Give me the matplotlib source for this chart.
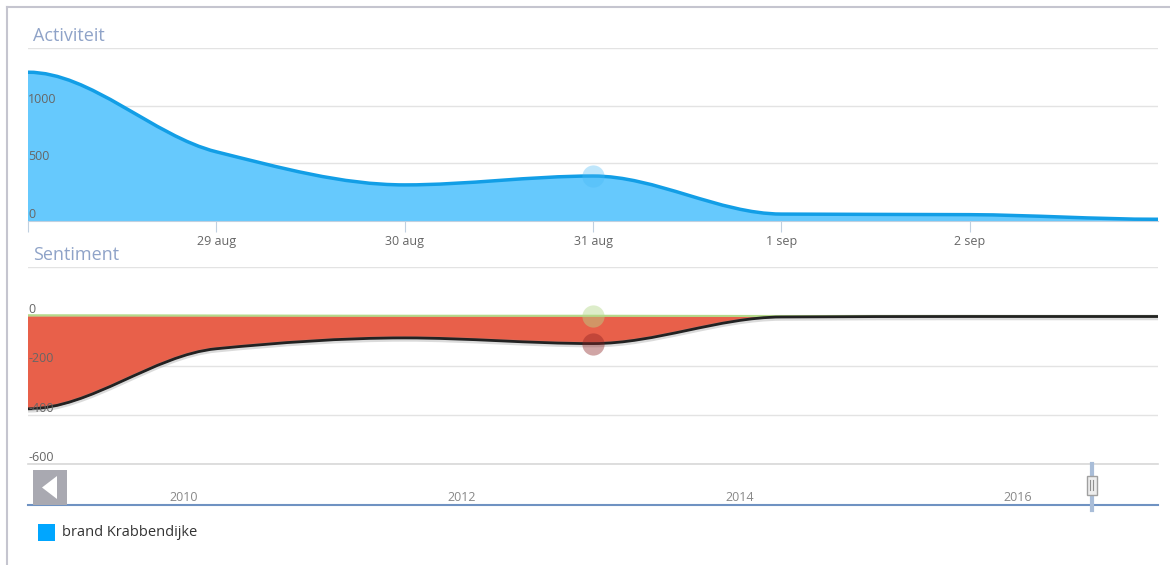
import matplotlib
matplotlib.use("Agg")
import matplotlib.pyplot as plt
import matplotlib.dates as mdates
import numpy as np
from datetime import datetime
from matplotlib.path import Path
from matplotlib.patches import PathPatch, Rectangle, Polygon
from matplotlib.lines import Line2D

plt.rcParams['font.family'] = ['Open Sans', 'DejaVu Sans']

# data
days = [datetime(2016, 8, d) for d in (28, 29, 30, 31)] + \
       [datetime(2016, 9, d) for d in (1, 2, 3)]
activity = [1290, 600, 313, 390, 60, 55, 15]
sent_neg = [-380, -135, -90, -113, -4, -2, -1]
sent_pos = [4, 3, 2, 2, 1, 1, 0]
sent_net = [p + n for p, n in zip(sent_pos, sent_neg)]
day_labels = ['', '29 aug', '30 aug', '31 aug', '1 sep', '2 sep']
act_ticks = [0, 500, 1000]
act_grid = [0, 500, 1000, 1500]
sent_ticks = [0, -200, -400, -600]
sent_grid = [-600, -400, -200, 0, 200]
nav_years = [2010, 2012, 2014, 2016]
hover_idx = 3
legend_label = 'brand Krabbendijke'

W, H = 1170, 565
fig = plt.figure(figsize=(W / 100, H / 100), dpi=100)


def fx(px):
    return px / W


def fy(py):
    return 1 - py / H


def spline(xs, ys):
    # monotone cubic through the points, as bezier segments
    xs = np.asarray(xs, float)
    ys = np.asarray(ys, float)
    d = np.diff(ys) / np.diff(xs)
    m = np.zeros(len(xs))
    for k in range(1, len(xs) - 1):
        if d[k - 1] * d[k] > 0:
            m[k] = 2 / (1 / d[k - 1] + 1 / d[k])
    verts = [(xs[0], ys[0])]
    codes = [Path.MOVETO]
    for i in range(len(xs) - 1):
        h = xs[i + 1] - xs[i]
        verts += [(xs[i] + h / 3, ys[i] + m[i] * h / 3),
                  (xs[i + 1] - h / 3, ys[i + 1] - m[i + 1] * h / 3),
                  (xs[i + 1], ys[i + 1])]
        codes += [Path.CURVE4] * 3
    return verts, codes


def area(ax, xs, ys, fill, line, lw, z=2):
    verts, codes = spline(xs, ys)
    fv = verts + [(xs[-1], 0), (xs[0], 0), (xs[0], 0)]
    fc = codes + [Path.LINETO, Path.LINETO, Path.CLOSEPOLY]
    ax.add_patch(PathPatch(Path(fv, fc), facecolor=fill, edgecolor='none', zorder=z))
    if line:
        ax.add_patch(PathPatch(Path(verts, codes), facecolor='none', edgecolor=line,
                               lw=lw, zorder=z + 1, capstyle='round'))


def style_axes(ax, grid, ticks, ylim):
    ax.set_facecolor('none')
    ax.set_ylim(*ylim)
    ax.set_yticks(grid)
    ax.yaxis.grid(True, color='#e3e3e3', lw=1)
    ax.set_axisbelow(True)
    ax.tick_params(axis='y', length=0, labelleft=False)
    for s in ('top', 'right', 'left'):
        ax.spines[s].set_visible(False)
    for v in ticks:
        ax.text(0.0, v, str(v), transform=ax.get_yaxis_transform(),
                ha='left', va='bottom', fontsize=9, color='#666666', zorder=6)


xnum = mdates.date2num(days)

# ---- Activiteit ----
ax1 = fig.add_axes([fx(28), fy(221), fx(1130), 173 / H])
style_axes(ax1, act_grid, act_ticks, (0, 1500))
ax1.set_xlim(xnum[0], xnum[-1])
ax1.spines['bottom'].set_color('#c0d0e0')
ax1.set_xticks(xnum[:-1])
ax1.set_xticklabels(day_labels)
ax1.tick_params(axis='x', length=8, color='#c0d0e0', labelsize=9,
                labelcolor='#666666', pad=2)
area(ax1, xnum, activity, '#66c9fd', '#129ee6', 2.5)
ax1.plot(xnum[hover_idx], activity[hover_idx], 'o', ms=16, color='#49b8f5',
         alpha=0.35, mec='none', zorder=5)
fig.text(fx(33), fy(36), 'Activiteit', fontsize=13, color='#8fa3c8', va='center')

# ---- Sentiment ----
ax2 = fig.add_axes([fx(28), fy(464), fx(1130), 197 / H])
style_axes(ax2, sent_grid, sent_ticks, (-600, 200))
ax2.set_xlim(xnum[0], xnum[-1])
ax2.spines['bottom'].set_color('#d8d8d8')
ax2.spines['bottom'].set_linewidth(1.2)
ax2.set_xticks([])
area(ax2, xnum, sent_neg, '#e8604a', None, 0)
area(ax2, xnum, sent_pos, '#b5d98a', '#b5d98a', 1.5, z=3)
v, c = spline(xnum, sent_net)
ax2.add_patch(PathPatch(Path([(a, b - 4) for a, b in v], c), facecolor='none',
                        edgecolor='#999999', lw=4, alpha=0.35, zorder=3))
ax2.add_patch(PathPatch(Path(v, c), facecolor='none', edgecolor='#222222',
                        lw=2, zorder=4))
ax2.plot(xnum[hover_idx], sent_pos[hover_idx], 'o', ms=16, color='#b5d98a',
         alpha=0.45, mec='none', zorder=5)
ax2.plot(xnum[hover_idx], sent_net[hover_idx], 'o', ms=16, color='#8a2020',
         alpha=0.4, mec='none', zorder=5)
fig.text(fx(33), fy(255), 'Sentiment', fontsize=13, color='#8fa3c8', va='center')

# ---- navigator ----
ax3 = fig.add_axes([fx(28), fy(505), fx(1130), 41 / H])
ax3.set_facecolor('none')
ax3.set_xlim(mdates.date2num(datetime(2009, 1, 2)),
             mdates.date2num(datetime(2017, 2, 18)))
ax3.set_ylim(0, 1)
for s in ('top', 'right', 'left'):
    ax3.spines[s].set_visible(False)
ax3.spines['bottom'].set_color('#6f92c2')
ax3.spines['bottom'].set_linewidth(1.5)
ax3.set_yticks([])
ax3.set_xticks([])
for yr in nav_years:
    ax3.annotate(str(yr), (mdates.date2num(datetime(yr, 1, 1)), 0),
                 xytext=(3, 1), textcoords='offset pixels', ha='left',
                 va='bottom', fontsize=9, color='#888888')
hx = xnum[0]
ax3.plot([hx, hx], [-0.12, 1.0], color='#a9bdd8', lw=3, clip_on=False, zorder=3)
hw = 5 / 1130 * (ax3.get_xlim()[1] - ax3.get_xlim()[0])
ax3.add_patch(Rectangle((hx - hw, 0.25), 2 * hw, 0.45, facecolor='#eeeeee',
                        edgecolor='#a0a0a0', lw=1, zorder=4))
for off in (-0.3, 0.3):
    ax3.plot([hx + off * hw] * 2, [0.36, 0.6], color='#909090', lw=0.8, zorder=5)

# scroll button
fig.patches.append(Rectangle((fx(33), fy(505)), fx(34), 35 / H,
                             transform=fig.transFigure, facecolor='#a9a9b1',
                             edgecolor='none', zorder=5))
fig.patches.append(Polygon([(fx(42), fy(487.5)), (fx(57), fy(476)), (fx(57), fy(499))],
                           closed=True, transform=fig.transFigure,
                           facecolor='white', edgecolor='none', zorder=6))

# legend
fig.patches.append(Rectangle((fx(38), fy(541)), fx(17), 17 / H,
                             transform=fig.transFigure, facecolor='#00a6ff',
                             edgecolor='none'))
fig.text(fx(62), fy(532), legend_label, fontsize=10.5, color='#333333', va='center')

# outer frame
fig.add_artist(Line2D([fx(7), fx(7)], [fy(7), 0], transform=fig.transFigure,
                      color='#c5c5cf', lw=1.5))
fig.add_artist(Line2D([fx(7), 1], [fy(7), fy(7)], transform=fig.transFigure,
                      color='#c5c5cf', lw=1.5))

fig.savefig('out.png', dpi=100)
